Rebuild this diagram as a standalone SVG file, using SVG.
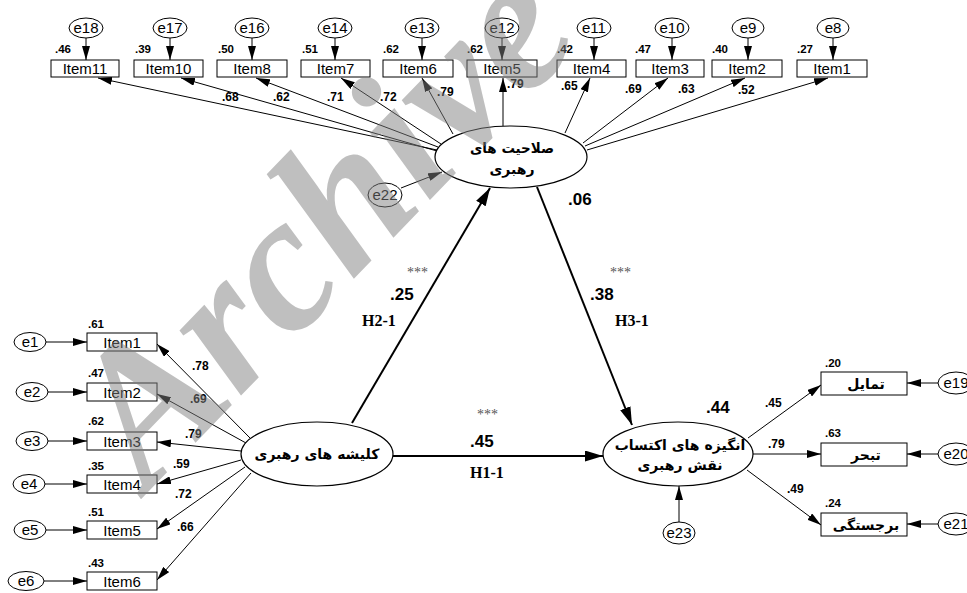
<svg xmlns="http://www.w3.org/2000/svg" width="967" height="593" viewBox="0 0 967 593">
<defs>
<marker id="a" markerUnits="userSpaceOnUse" markerWidth="14" markerHeight="8" refX="14" refY="4" orient="auto"><path d="M0,0 L14,4 L0,8 z" fill="#000"/></marker>
<marker id="A" markerUnits="userSpaceOnUse" markerWidth="18" markerHeight="11" refX="18" refY="5.5" orient="auto"><path d="M0,0 L18,5.5 L0,11 z" fill="#000"/></marker>
<style>
.box{fill:#fff;stroke:#000;stroke-width:1}
.err{fill:#fff;stroke:#000;stroke-width:1}
.lat{fill:#fff;stroke:#000;stroke-width:1.2}
.t{font-family:"Liberation Sans",Arial,sans-serif;font-size:15px;text-anchor:middle;fill:#000}
.ld{font-family:"Liberation Sans",Arial,sans-serif;font-size:12px;font-weight:bold;fill:#000}
.sm{font-family:"Liberation Sans",Arial,sans-serif;font-size:11.5px;font-weight:bold;fill:#000}
.big{font-family:"Liberation Sans",Arial,sans-serif;font-size:17px;font-weight:bold;fill:#000}
.hyp{font-family:"Liberation Serif","Times New Roman",serif;font-size:16px;font-weight:bold;fill:#000}
.star{font-family:"Liberation Serif","Times New Roman",serif;font-size:14px;fill:#555}
.fa{font-family:"DejaVu Sans",sans-serif;font-size:14px;font-weight:bold;text-anchor:middle;fill:#000}
.m{stroke:#000;stroke-width:1;fill:none;marker-end:url(#a)}
.s{stroke:#000;stroke-width:2;fill:none;marker-end:url(#A)}
.wm{font-family:"Liberation Serif","Times New Roman",serif;font-style:italic;font-weight:bold;font-size:195px;fill:#808080;fill-opacity:0.5}
</style>
</defs>
<rect width="967" height="593" fill="#fff"/>

<g id="connectors">
<line class="m" x1="86" y1="38" x2="86" y2="60"/>
<line class="m" x1="170" y1="38" x2="170" y2="60"/>
<line class="m" x1="252" y1="38" x2="252" y2="60"/>
<line class="m" x1="335" y1="38" x2="335" y2="60"/>
<line class="m" x1="422" y1="38" x2="422" y2="60"/>
<line class="m" x1="502" y1="38" x2="502" y2="60"/>
<line class="m" x1="594" y1="38" x2="594" y2="60"/>
<line class="m" x1="672" y1="38" x2="672" y2="60"/>
<line class="m" x1="748" y1="38" x2="748" y2="60"/>
<line class="m" x1="833" y1="38" x2="833" y2="60"/>
<line class="m" x1="437" y1="150" x2="98" y2="78"/>
<line class="m" x1="437" y1="151" x2="181" y2="78"/>
<line class="m" x1="438" y1="147" x2="256" y2="78"/>
<line class="m" x1="441" y1="144" x2="341" y2="78"/>
<line class="m" x1="453" y1="134" x2="422" y2="78"/>
<line class="m" x1="503" y1="126" x2="503" y2="78"/>
<line class="m" x1="565" y1="133" x2="590" y2="78"/>
<line class="m" x1="583" y1="143" x2="668" y2="78"/>
<line class="m" x1="585" y1="146" x2="745" y2="78"/>
<line class="m" x1="587" y1="150" x2="828" y2="78"/>
<line class="m" x1="401" y1="188" x2="442" y2="172"/>
<line class="m" x1="46" y1="342" x2="87" y2="342"/>
<line class="m" x1="48" y1="392" x2="87" y2="392"/>
<line class="m" x1="48" y1="441" x2="87" y2="441"/>
<line class="m" x1="45" y1="484" x2="87" y2="484"/>
<line class="m" x1="46" y1="530" x2="87" y2="530"/>
<line class="m" x1="44" y1="581" x2="87" y2="581"/>
<line class="m" x1="250" y1="438" x2="157" y2="344"/>
<line class="m" x1="246" y1="443" x2="157" y2="394"/>
<line class="m" x1="241" y1="451" x2="157" y2="442"/>
<line class="m" x1="241" y1="460" x2="157" y2="484"/>
<line class="m" x1="245" y1="467" x2="157" y2="529"/>
<line class="m" x1="251" y1="473" x2="157" y2="580"/>
<line class="m" x1="748" y1="438" x2="821" y2="385"/>
<line class="m" x1="753" y1="454" x2="821" y2="454"/>
<line class="m" x1="747" y1="470" x2="821" y2="525"/>
<line class="m" x1="938" y1="383" x2="907" y2="383"/>
<line class="m" x1="938" y1="454" x2="907" y2="454"/>
<line class="m" x1="938" y1="524" x2="907" y2="524"/>
<line class="m" x1="679" y1="522" x2="679" y2="486"/>
<line class="s" x1="393" y1="456" x2="603" y2="456"/>
<line class="s" x1="352" y1="423" x2="490" y2="188"/>
<line class="s" x1="537" y1="187" x2="632" y2="425"/>
</g>

<g id="top-errors">
<g id="e18"><ellipse class="err" cx="86" cy="28" rx="17" ry="10"/><text class="t" x="86" y="33">e18</text></g>
<g id="e17"><ellipse class="err" cx="170" cy="28" rx="17" ry="10"/><text class="t" x="170" y="33">e17</text></g>
<g id="e16"><ellipse class="err" cx="252" cy="28" rx="17" ry="10"/><text class="t" x="252" y="33">e16</text></g>
<g id="e14"><ellipse class="err" cx="335" cy="28" rx="17" ry="10"/><text class="t" x="335" y="33">e14</text></g>
<g id="e13"><ellipse class="err" cx="422" cy="28" rx="17" ry="10"/><text class="t" x="422" y="33">e13</text></g>
<g id="e12"><ellipse class="err" cx="502" cy="28" rx="17" ry="10"/><text class="t" x="502" y="33">e12</text></g>
<g id="e11"><ellipse class="err" cx="594" cy="28" rx="17" ry="10"/><text class="t" x="594" y="33">e11</text></g>
<g id="e10"><ellipse class="err" cx="672" cy="28" rx="17" ry="10"/><text class="t" x="672" y="33">e10</text></g>
<g id="e9"><ellipse class="err" cx="748" cy="28" rx="16" ry="10"/><text class="t" x="748" y="33">e9</text></g>
<g id="e8"><ellipse class="err" cx="833" cy="28" rx="16" ry="10"/><text class="t" x="833" y="33">e8</text></g>
</g>

<g id="top-items">
<g id="t-item11"><rect class="box" x="51" y="60" width="68" height="17"/><text class="t" x="85" y="74">Item11</text><text class="sm" x="55" y="53">.46</text></g>
<g id="t-item10"><rect class="box" x="134" y="60" width="69" height="17"/><text class="t" x="168.5" y="74">Item10</text><text class="sm" x="135" y="53">.39</text></g>
<g id="t-item8"><rect class="box" x="217" y="60" width="70" height="17"/><text class="t" x="252" y="74">Item8</text><text class="sm" x="218" y="53">.50</text></g>
<g id="t-item7"><rect class="box" x="301" y="60" width="69" height="17"/><text class="t" x="335.5" y="74">Item7</text><text class="sm" x="302" y="53">.51</text></g>
<g id="t-item6"><rect class="box" x="383" y="60" width="70" height="17"/><text class="t" x="418" y="74">Item6</text><text class="sm" x="383" y="53">.62</text></g>
<g id="t-item5"><rect class="box" x="467" y="60" width="70" height="17"/><text class="t" x="502" y="74">Item5</text><text class="sm" x="467" y="53">.62</text></g>
<g id="t-item4"><rect class="box" x="557" y="60" width="69" height="17"/><text class="t" x="591.5" y="74">Item4</text><text class="sm" x="557" y="53">.42</text></g>
<g id="t-item3"><rect class="box" x="636" y="60" width="68" height="17"/><text class="t" x="670" y="74">Item3</text><text class="sm" x="635" y="53">.47</text></g>
<g id="t-item2"><rect class="box" x="712" y="60" width="70" height="17"/><text class="t" x="747" y="74">Item2</text><text class="sm" x="712" y="53">.40</text></g>
<g id="t-item1"><rect class="box" x="797" y="60" width="70" height="17"/><text class="t" x="832" y="74">Item1</text><text class="sm" x="797" y="53">.27</text></g>
</g>

<g id="top-loadings">
<text class="ld" x="222" y="101">.68</text>
<text class="ld" x="273" y="101">.62</text>
<text class="ld" x="327" y="101">.71</text>
<text class="ld" x="380" y="101">.72</text>
<text class="ld" x="437" y="96">.79</text>
<text class="ld" x="507" y="88">.79</text>
<text class="ld" x="561" y="90">.65</text>
<text class="ld" x="625" y="93">.69</text>
<text class="ld" x="678" y="93">.63</text>
<text class="ld" x="738" y="94">.52</text>
</g>

<g id="leadership-competence">
<ellipse class="lat" cx="511" cy="157" rx="76" ry="31"/>
<text class="fa" x="512" y="153" textLength="84" lengthAdjust="spacingAndGlyphs">صلاحیت های</text>
<text class="fa" x="512" y="174">رهبری</text>
<text class="big" x="568" y="205">.06</text>
</g>
<g id="e22"><ellipse class="err" cx="385" cy="195" rx="17" ry="12"/><text class="t" x="385" y="200">e22</text></g>

<g id="left-errors">
<g id="e1"><ellipse class="err" cx="30" cy="342" rx="16" ry="9.5"/><text class="t" x="30" y="347">e1</text></g>
<g id="e2"><ellipse class="err" cx="32" cy="392" rx="16" ry="9.5"/><text class="t" x="32" y="397">e2</text></g>
<g id="e3"><ellipse class="err" cx="32" cy="441" rx="16" ry="9.5"/><text class="t" x="32" y="446">e3</text></g>
<g id="e4"><ellipse class="err" cx="29" cy="484" rx="16" ry="9.5"/><text class="t" x="29" y="489">e4</text></g>
<g id="e5"><ellipse class="err" cx="30" cy="530" rx="16" ry="9.5"/><text class="t" x="30" y="535">e5</text></g>
<g id="e6"><ellipse class="err" cx="26" cy="581" rx="18" ry="9.5"/><text class="t" x="26" y="586">e6</text></g>
</g>

<g id="left-items">
<g id="l-item1"><rect class="box" x="87" y="333" width="70" height="18"/><text class="t" x="122" y="347.5">Item1</text><text class="sm" x="88" y="328">.61</text></g>
<g id="l-item2"><rect class="box" x="87" y="383" width="70" height="18"/><text class="t" x="122" y="397.5">Item2</text><text class="sm" x="88" y="377">.47</text></g>
<g id="l-item3"><rect class="box" x="87" y="432" width="70" height="18"/><text class="t" x="122" y="446.5">Item3</text><text class="sm" x="88" y="425">.62</text></g>
<g id="l-item4"><rect class="box" x="87" y="475" width="70" height="18"/><text class="t" x="122" y="489.5">Item4</text><text class="sm" x="88" y="470">.35</text></g>
<g id="l-item5"><rect class="box" x="87" y="521" width="70" height="18"/><text class="t" x="122" y="535.5">Item5</text><text class="sm" x="88" y="516">.51</text></g>
<g id="l-item6"><rect class="box" x="87" y="572" width="70" height="18"/><text class="t" x="122" y="586.5">Item6</text><text class="sm" x="88" y="567">.43</text></g>
</g>

<g id="left-loadings">
<text class="ld" x="192" y="370">.78</text>
<text class="ld" x="190" y="403">.69</text>
<text class="ld" x="185" y="438">.79</text>
<text class="ld" x="173" y="468">.59</text>
<text class="ld" x="175" y="498">.72</text>
<text class="ld" x="177" y="531">.66</text>
</g>

<g id="leadership-stereotypes">
<ellipse class="lat" cx="317" cy="454" rx="76" ry="32"/>
<text class="fa" x="317" y="459">کلیشه های رهبری</text>
</g>

<g id="motivation">
<ellipse class="lat" cx="678" cy="454" rx="75" ry="32"/>
<text class="fa" x="680" y="450">انگیزه های اکتساب</text>
<text class="fa" x="680" y="470">نقش رهبری</text>
<text class="big" x="706" y="413">.44</text>
</g>
<g id="e23"><ellipse class="err" cx="679" cy="533" rx="16" ry="11"/><text class="t" x="679" y="538">e23</text></g>

<g id="right-items">
<g id="r-tamayol"><rect class="box" x="821" y="372" width="86" height="23"/><text class="fa" x="866" y="389">تمایل</text><text class="sm" x="825" y="367">.20</text></g>
<g id="r-tabahhor"><rect class="box" x="821" y="443" width="86" height="23"/><text class="fa" x="866" y="460">تبحر</text><text class="sm" x="825" y="437">.63</text></g>
<g id="r-barjastegi"><rect class="box" x="821" y="513" width="86" height="23"/><text class="fa" x="866" y="530">برجستگی</text><text class="sm" x="825" y="507">.24</text></g>
</g>
<g id="right-errors">
<g id="e19"><ellipse class="err" cx="956" cy="383" rx="18" ry="11"/><text class="t" x="956" y="388">e19</text></g>
<g id="e20"><ellipse class="err" cx="956" cy="454" rx="18" ry="11"/><text class="t" x="956" y="459">e20</text></g>
<g id="e21"><ellipse class="err" cx="956" cy="524" rx="18" ry="11"/><text class="t" x="956" y="529">e21</text></g>
</g>
<g id="right-loadings">
<text class="ld" x="765" y="407">.45</text>
<text class="ld" x="768" y="448">.79</text>
<text class="ld" x="787" y="493">.49</text>
</g>

<g id="path-labels">
<text class="star" x="407" y="277">***</text>
<text class="big" x="390" y="300">.25</text>
<text class="hyp" x="362" y="326">H2-1</text>
<text class="star" x="610" y="277">***</text>
<text class="big" x="590" y="300">.38</text>
<text class="hyp" x="615" y="326">H3-1</text>
<text class="star" x="477" y="419">***</text>
<text class="big" x="470" y="447">.45</text>
<text class="hyp" x="470" y="478">H1-1</text>
</g>

<text class="wm" x="148" y="492" transform="rotate(-46 148 492)">Archive</text>
</svg>
